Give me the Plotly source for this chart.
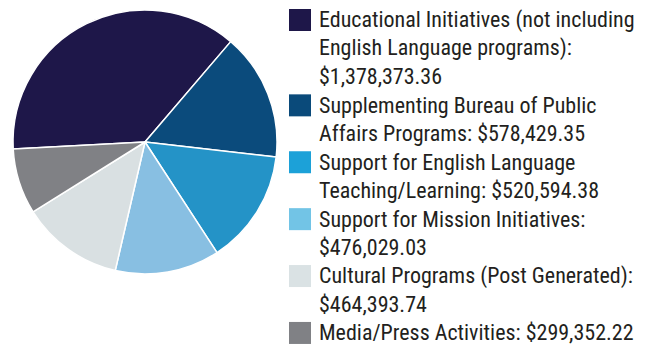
import plotly.graph_objects as go

# Spending by program area (USD)
categories = [
    "Educational Initiatives (not including<br>English Language programs):",
    "Supplementing Bureau of Public<br>Affairs Programs:",
    "Support for English Language<br>Teaching/Learning:",
    "Support for Mission Initiatives:",
    "Cultural Programs (Post Generated):",
    "Media/Press Activities:",
]
amounts = [1378373.36, 578429.35, 520594.38, 476029.03, 464393.74, 299352.22]
# value goes on its own line for these entries
value_on_new_line = [True, False, False, True, True, False]

slice_colors = ["#1e1749", "#0b4b7c", "#2493c7", "#88bfe2", "#d9e0e2", "#808185"]
swatch_colors = ["#1e1749", "#0a4a7a", "#1ca1d8", "#72c4e6", "#dae2e4", "#808185"]

W, H = 656, 348
fig = go.Figure()

fig.add_trace(go.Pie(
    labels=[c.replace("<br>", " ") for c in categories],
    values=amounts,
    sort=False,
    direction="clockwise",
    rotation=267,
    marker=dict(colors=slice_colors, line=dict(color="white", width=1.5)),
    textinfo="none",
    hoverinfo="label+value",
    showlegend=False,
    domain=dict(x=[13 / W, 277 / W], y=[(H - 274) / H, (H - 10) / H]),
))

# Custom legend: one swatch per entry, one text row per line
font = dict(family="Roboto Condensed, DejaVu Sans Condensed, sans-serif", size=22, color="#231f20")
first_line_y = 20
pitch = 28.45
text_x = 318
line_idx = 0
for cat, amt, newline, sw in zip(categories, amounts, value_on_new_line, swatch_colors):
    value_txt = f"${amt:,.2f}"
    lines = cat.split("<br>")
    if newline:
        lines.append(value_txt)
    else:
        lines[-1] = lines[-1] + " " + value_txt
    y0 = first_line_y + line_idx * pitch
    fig.add_shape(type="rect", xref="paper", yref="paper",
                  x0=289 / W, x1=311 / W,
                  y0=(H - (y0 - 11)) / H, y1=(H - (y0 + 11)) / H,
                  fillcolor=sw, line=dict(width=0))
    for ln in lines:
        yc = first_line_y + line_idx * pitch
        fig.add_annotation(x=text_x / W, y=(H - yc) / H, xref="paper", yref="paper",
                           xanchor="left", yanchor="middle", text=ln, showarrow=False,
                           font=font, xshift=-1)
        line_idx += 1

fig.update_layout(
    width=W, height=H,
    margin=dict(l=0, r=0, t=0, b=0),
    paper_bgcolor="white", plot_bgcolor="white",
)

fig.write_html("out.html")
